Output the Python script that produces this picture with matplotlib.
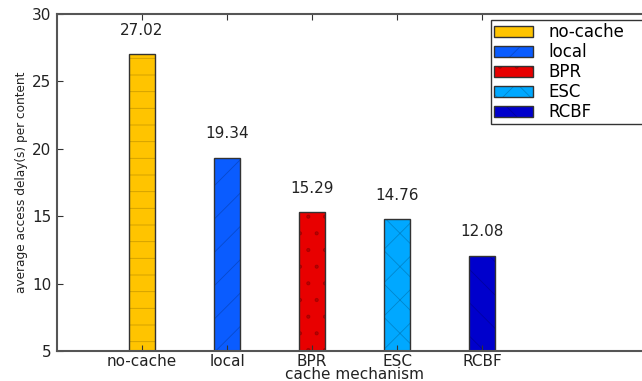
import matplotlib

matplotlib.use("Agg")
import matplotlib.pyplot as plt

# cache mechanisms and their average access delay per content (seconds)
mechanisms = ["no-cache", "local", "BPR", "ESC", "RCBF"]
delays = [27.02, 19.34, 15.29, 14.76, 12.08]
colors = ["#ffc400", "#0a5cff", "#e80000", "#00a8ff", "#0000cc"]
hatches = ["-", "/", ".", "x", "\\"]
y_ticks = [5, 10, 15, 20, 25, 30]

plt.rcParams["hatch.linewidth"] = 0.6

fig = plt.figure(figsize=(6.42, 3.81), dpi=100)
# axes run past the right edge of the canvas
ax = fig.add_axes([57 / 642, 30 / 381, 595 / 642, 337 / 381])

positions = list(range(1, len(mechanisms) + 1))
for pos, val, lbl, c, h in zip(positions, delays, mechanisms, colors, hatches):
    bar = ax.bar(pos, val - 5, bottom=5, width=0.3, color=c, edgecolor="#333333",
                 linewidth=1.0, label=lbl, hatch=h)
    bar[0]._hatch_color = (0, 0, 0, 0.2)
    ax.annotate(f"{val:.2f}", (pos, val), xytext=(0, 12), textcoords="offset points",
                ha="center", va="bottom", fontsize=11, color="#222222")

ax.set_xlim(0, 7)
ax.set_ylim(5, 30)
ax.set_xticks(positions)
ax.set_xticklabels(mechanisms)
ax.set_yticks(y_ticks)
ax.tick_params(direction="in", length=4, width=0.8, labelsize=11, colors="#333333",
               top=True, right=True)
ax.tick_params(axis="x", labelcolor="#222222", pad=2)
ax.tick_params(axis="y", labelcolor="#222222", pad=4)
for sp in ax.spines.values():
    sp.set_color("#555555")
    sp.set_linewidth(1.5)

ax.set_xlabel("cache mechanism", fontsize=11, color="#222222", labelpad=-1)
ax.set_ylabel("average access delay(s) per content", fontsize=8.7, color="#222222", labelpad=3)

# legend box is wider than the space left, so its right edge is clipped
leg = ax.legend(loc="upper left", mode="expand",
                bbox_to_anchor=(491 / 642, 0, 170 / 642, 1 - 20 / 381),
                bbox_transform=fig.transFigure, fontsize=12, handlelength=2.35,
                handleheight=0.65, labelspacing=0.12, handletextpad=0.9,
                borderaxespad=0, fancybox=False, framealpha=1, borderpad=0.18)
leg.get_frame().set_edgecolor("#333333")
leg.get_frame().set_linewidth(1.0)

fig.savefig("out.png", dpi=100)
